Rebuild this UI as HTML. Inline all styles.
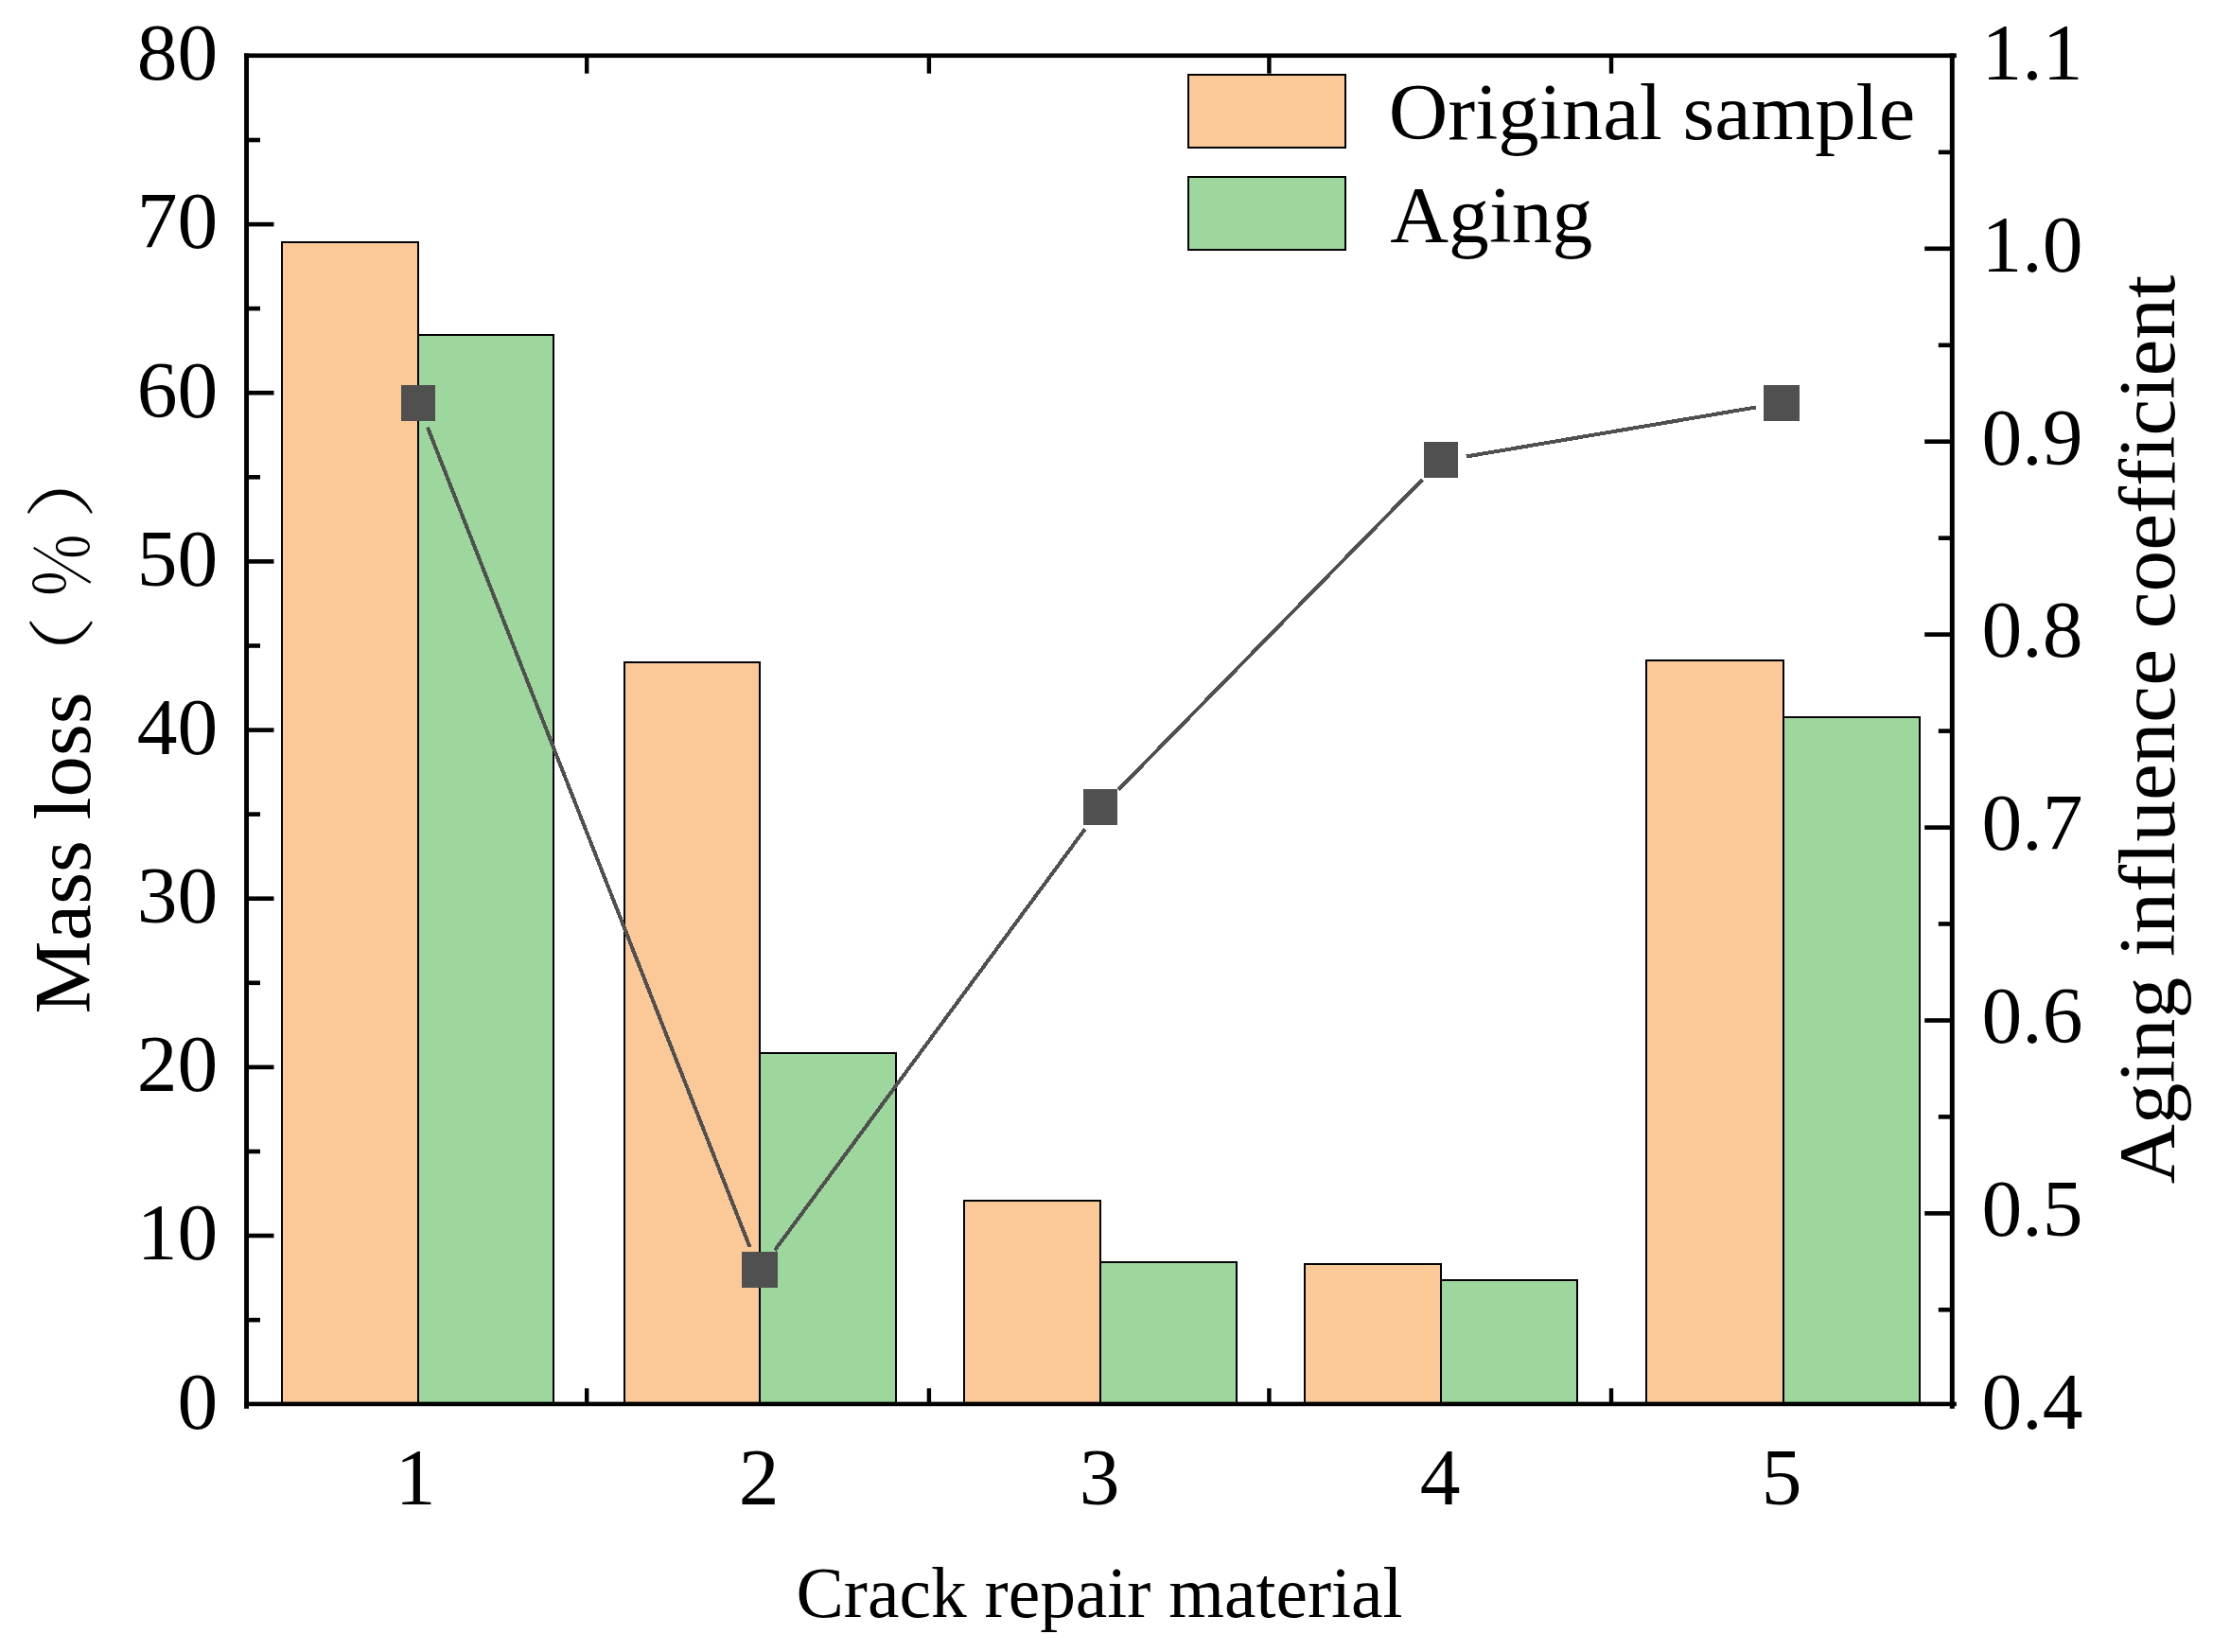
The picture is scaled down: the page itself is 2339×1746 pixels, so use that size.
<!DOCTYPE html>
<html lang="en"><head><meta charset="utf-8"><title>Mass loss and aging influence coefficient</title>
<style>html,body{margin:0;padding:0;background:#fff}body{width:2339px;height:1746px;overflow:hidden}svg{display:block}text{font-family:"Liberation Serif","Noto Serif CJK SC",serif;fill:#000;font-variant-ligatures:none;font-kerning:none}.t{font-size:85.5px}.cj{font-family:"Noto Serif CJK SC","Noto Sans CJK SC","Liberation Serif",serif;font-weight:300}</style></head><body>
<svg width="2339" height="1746" viewBox="0 0 2339 1746">
<rect width="2339" height="1746" fill="#fff"/>
<g stroke="#000" stroke-width="2" shape-rendering="crispEdges">
<rect x="297.7" y="256.4" width="144.1" height="1227.8" fill="#fbc898"/>
<rect x="441.8" y="354.4" width="143.6" height="1129.8" fill="#9dd79d"/>
<rect x="659.9" y="700.3" width="143.5" height="783.9" fill="#fbc898"/>
<rect x="803.4" y="1113.4" width="143.5" height="370.8" fill="#9dd79d"/>
<rect x="1019.0" y="1269.0" width="143.8" height="215.2" fill="#fbc898"/>
<rect x="1162.8" y="1333.7" width="144.2" height="150.5" fill="#9dd79d"/>
<rect x="1379.2" y="1336.3" width="143.5" height="147.9" fill="#fbc898"/>
<rect x="1522.7" y="1352.9" width="143.8" height="131.3" fill="#9dd79d"/>
<rect x="1740.4" y="698.1" width="144.2" height="786.1" fill="#fbc898"/>
<rect x="1884.6" y="757.9" width="143.9" height="726.3" fill="#9dd79d"/>
</g>
<g stroke="#000" stroke-width="2" shape-rendering="crispEdges">
<rect x="1255.8" y="78.9" width="166.2" height="76.9" fill="#fbc898"/>
<rect x="1255.8" y="186.9" width="166.2" height="76.9" fill="#9dd79d"/>
</g>
<g fill="#000">
<rect x="258.1" y="56.4" width="1809.7" height="4.7"/>
<rect x="258.1" y="1481.6" width="1809.7" height="4.6"/>
<rect x="258.1" y="56.4" width="4.9" height="1432.4"/>
<rect x="2060.8" y="56.4" width="5" height="1432.4"/>
<rect x="260.5" y="1392.8" width="14.5" height="4.6"/>
<rect x="260.5" y="1303.7" width="29.0" height="4.6"/>
<rect x="260.5" y="1214.7" width="14.5" height="4.6"/>
<rect x="260.5" y="1125.6" width="29.0" height="4.6"/>
<rect x="260.5" y="1036.5" width="14.5" height="4.6"/>
<rect x="260.5" y="947.4" width="29.0" height="4.6"/>
<rect x="260.5" y="858.3" width="14.5" height="4.6"/>
<rect x="260.5" y="769.3" width="29.0" height="4.6"/>
<rect x="260.5" y="680.2" width="14.5" height="4.6"/>
<rect x="260.5" y="591.1" width="29.0" height="4.6"/>
<rect x="260.5" y="502.0" width="14.5" height="4.6"/>
<rect x="260.5" y="412.9" width="29.0" height="4.6"/>
<rect x="260.5" y="323.8" width="14.5" height="4.6"/>
<rect x="260.5" y="234.8" width="29.0" height="4.6"/>
<rect x="260.5" y="145.7" width="14.5" height="4.6"/>
<rect x="2048.8" y="1382.0" width="14.5" height="4.6"/>
<rect x="2034.2" y="1280.1" width="29.1" height="4.6"/>
<rect x="2048.8" y="1178.1" width="14.5" height="4.6"/>
<rect x="2034.2" y="1076.2" width="29.1" height="4.6"/>
<rect x="2048.8" y="974.2" width="14.5" height="4.6"/>
<rect x="2034.2" y="872.3" width="29.1" height="4.6"/>
<rect x="2048.8" y="770.3" width="14.5" height="4.6"/>
<rect x="2034.2" y="668.3" width="29.1" height="4.6"/>
<rect x="2048.8" y="566.4" width="14.5" height="4.6"/>
<rect x="2034.2" y="464.4" width="29.1" height="4.6"/>
<rect x="2048.8" y="362.5" width="14.5" height="4.6"/>
<rect x="2034.2" y="260.5" width="29.1" height="4.6"/>
<rect x="2048.8" y="158.6" width="14.5" height="4.6"/>
<rect x="618.0" y="58.9" width="4.4" height="18.8"/>
<rect x="618.0" y="1467.3" width="4.4" height="16.9"/>
<rect x="979.7" y="58.9" width="4.4" height="18.8"/>
<rect x="979.7" y="1467.3" width="4.4" height="16.9"/>
<rect x="1339.2" y="58.9" width="4.4" height="18.8"/>
<rect x="1339.2" y="1467.3" width="4.4" height="16.9"/>
<rect x="1700.8" y="58.9" width="4.4" height="18.8"/>
<rect x="1700.8" y="1467.3" width="4.4" height="16.9"/>
</g>
<g stroke="#505050" stroke-width="4" fill="none" shape-rendering="crispEdges">
<line x1="451.9" y1="451.5" x2="792.5" y2="1318.0"/>
<line x1="818.9" y1="1321.4" x2="1146.7" y2="876.3"/>
<line x1="1182.2" y1="834.5" x2="1503.4" y2="506.8"/>
<line x1="1549.7" y1="482.5" x2="1855.9" y2="430.5"/>
</g>
<g fill="#505050" shape-rendering="crispEdges">
<rect x="423.8" y="406.6" width="36" height="38"/>
<rect x="783.6" y="1323.2" width="38" height="38"/>
<rect x="1145.0" y="834.0" width="36" height="38"/>
<rect x="1504.6" y="466.9" width="36" height="38"/>
<rect x="1864.0" y="406.5" width="38" height="38"/>
</g>
<g class="t">
<text x="230.2" y="1509.5" text-anchor="end">0</text>
<text x="230.2" y="1331.3" text-anchor="end">10</text>
<text x="230.2" y="1153.2" text-anchor="end">20</text>
<text x="230.2" y="975.0" text-anchor="end">30</text>
<text x="230.2" y="796.9" text-anchor="end">40</text>
<text x="230.2" y="618.7" text-anchor="end">50</text>
<text x="230.2" y="440.5" text-anchor="end">60</text>
<text x="230.2" y="262.4" text-anchor="end">70</text>
<text x="230.2" y="84.2" text-anchor="end">80</text>
<text x="2094.5" y="1510.1">0.4</text>
<text x="2094.5" y="1306.2">0.5</text>
<text x="2094.5" y="1102.3">0.6</text>
<text x="2094.5" y="898.4">0.7</text>
<text x="2094.5" y="694.4">0.8</text>
<text x="2094.5" y="490.5">0.9</text>
<text x="2094.5" y="286.6">1.0</text>
<text x="2094.5" y="84.4">1.1</text>
<text x="439.0" y="1589.7" text-anchor="middle">1</text>
<text x="802.0" y="1589.7" text-anchor="middle">2</text>
<text x="1162.0" y="1589.7" text-anchor="middle">3</text>
<text x="1522.0" y="1589.7" text-anchor="middle">4</text>
<text x="1883.0" y="1589.7" text-anchor="middle">5</text>
<text x="1467.7" y="146.9" textLength="556.5" lengthAdjust="spacingAndGlyphs">Original sample</text>
<text x="1469.3" y="255.7" textLength="214" lengthAdjust="spacingAndGlyphs">Aging</text>
</g>
<text x="1162" y="1708.5" text-anchor="middle" font-size="75.6" textLength="641" lengthAdjust="spacingAndGlyphs">Crack repair material</text>
<g><text class="t" transform="translate(95,1071.5) rotate(-90)" textLength="340" lengthAdjust="spacingAndGlyphs">Mass loss</text><text class="cj" font-size="86.0" transform="translate(91.43,737.21) rotate(-90) scale(1.0050,0.8307)">（</text><text class="cj" font-size="86.0" transform="translate(93.56,630.58) rotate(-90) scale(0.8471,0.9486)">%</text><text class="cj" font-size="86.0" transform="translate(91.25,548.85) rotate(-90) scale(1.0465,0.8556)">）</text></g>
<text class="t" transform="translate(2297.5,1251.3) rotate(-90)" textLength="960.5" lengthAdjust="spacingAndGlyphs">Aging influence coefficient</text>
</svg></body></html>
